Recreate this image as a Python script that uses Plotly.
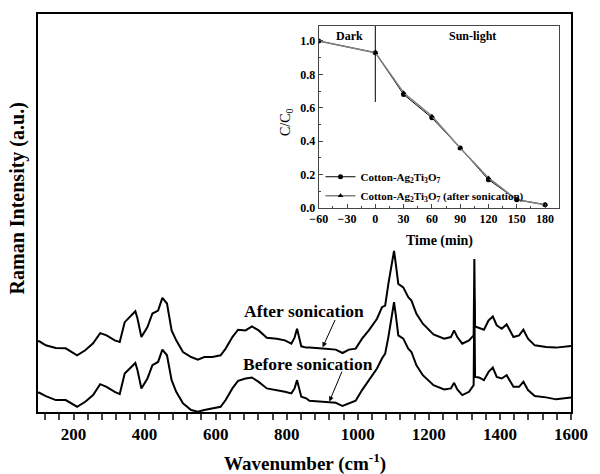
import plotly.graph_objects as go

# Raman spectra of the treated cotton fabric (arbitrary intensity units)
wavenumber = [100, 104, 122, 150, 178, 192, 210, 233, 255, 275, 293, 316, 330, 344, 363,
              374, 380, 391, 408, 422, 438, 450, 463, 476, 489, 508, 531, 550, 568, 591,
              614, 628, 647, 663, 684, 702, 721, 744, 772, 795, 813, 822, 829, 835, 841,
              855, 864, 901, 938, 957, 975, 994, 1012, 1031, 1054, 1068, 1077, 1086, 1096,
              1102, 1107, 1114, 1128, 1142, 1151, 1165, 1183, 1213, 1243, 1262, 1271, 1280,
              1294, 1313, 1326, 1328, 1330, 1341, 1355, 1368, 1380, 1391, 1405, 1419, 1438,
              1454, 1466, 1479, 1498, 1530, 1558, 1600]

intensity_after = [71, 71, 67, 64.3, 64, 61.3, 57, 62, 69, 79.3, 77, 72, 70.3, 90.3, 97,
                   101.3, 94, 75.3, 85.3, 99, 102, 114.7, 109, 82, 72, 60.3, 55.3, 52.7, 55.3, 55.3,
                   57, 63.7, 75.3, 82.7, 82, 86, 82, 74.7, 73.7, 72, 68.7, 74.7, 83.7, 73.7, 66,
                   64.7, 64.7, 63.7, 62.7, 59.3, 62.7, 63.7, 73.7, 82, 93.7, 105.3, 107, 128.7, 148.7,
                   162, 148.7, 128.7, 125.3, 115.3, 112, 98.7, 88.7, 78, 73.7, 75.3, 82, 75.3,
                   68.7, 72, 77, 153.7, 86, 84.7, 82.7, 92, 96, 87, 83.7, 88, 75.3,
                   77, 82.7, 73.7, 67, 65.3, 64.7, 66.3]

intensity_before = [19.5, 19.3, 16, 12, 12, 9.3, 5.3, 10.3, 17, 28, 25.3, 20.3, 18, 38.7, 45.3,
                    49.3, 42, 23.7, 33.7, 47, 50.3, 62.7, 57, 32, 20.3, 8.7, 2, 0.3, 2, 3.7,
                    5.3, 12, 23.7, 31.3, 33.7, 34.7, 30.3, 23.7, 22, 20.3, 18.7, 23.7, 32, 22, 15.3,
                    13.7, 11.3, 10.3, 9.3, 6, 8.7, 11.3, 22, 32, 43.7, 53.7, 58.7, 75.3, 97,
                    110.3, 97, 77, 73.7, 63.7, 60.3, 47, 37, 27, 22.7, 23.7, 29.3, 22.7,
                    17, 20.3, 27, 112, 35.3, 34.7, 32, 40.3, 44.7, 35.3, 33.7, 37, 25.3,
                    25.3, 30.3, 22, 16, 14.7, 12.7, 14.7]

# Photocatalytic degradation kinetics (inset)
time_min = [-60, 0, 30, 60, 90, 120, 150, 180]
c_ratio = [1.0, 0.93, 0.68, 0.54, 0.36, 0.17, 0.05, 0.02]
c_ratio_sonicated = [1.0, 0.93, 0.69, 0.55, 0.36, 0.18, 0.05, 0.02]

main_ticks = [200, 400, 600, 800, 1000, 1200, 1400, 1600]
inset_xticks = [-60, -30, 0, 30, 60, 90, 120, 150, 180]
inset_yticks = [0.0, 0.2, 0.4, 0.6, 0.8, 1.0]

FONT = "Liberation Serif, Times New Roman, serif"

fig = go.Figure()

fig.add_trace(go.Scatter(x=wavenumber, y=intensity_after, mode="lines",
                         line=dict(color="black", width=2), showlegend=False,
                         xaxis="x", yaxis="y"))
fig.add_trace(go.Scatter(x=wavenumber, y=intensity_before, mode="lines",
                         line=dict(color="black", width=2), showlegend=False,
                         xaxis="x", yaxis="y"))

fig.add_trace(go.Scatter(x=time_min, y=c_ratio, mode="lines+markers",
                         name="Cotton-Ag<sub>2</sub>Ti<sub>3</sub>O<sub>7</sub>",
                         line=dict(color="black", width=1),
                         marker=dict(symbol="circle", size=5, color="black"),
                         xaxis="x2", yaxis="y2"))
fig.add_trace(go.Scatter(x=time_min, y=c_ratio_sonicated, mode="lines+markers",
                         name="Cotton-Ag<sub>2</sub>Ti<sub>3</sub>O<sub>7</sub> (after sonication)",
                         line=dict(color="#808080", width=1.5),
                         marker=dict(symbol="triangle-up", size=5, color="black"),
                         xaxis="x2", yaxis="y2"))

fig.update_layout(
    width=600, height=474,
    margin=dict(l=38, r=19, t=12, b=62),
    paper_bgcolor="white", plot_bgcolor="white",
    font=dict(family=FONT, color="black", weight="bold"),
    xaxis=dict(range=[100, 1600], domain=[0, 1],
               tickvals=main_ticks, ticks="outside", ticklen=6, tickwidth=1.5,
               minor=dict(dtick=40, tick0=0, ticks="outside", ticklen=6, tickwidth=1.5),
               tickfont=dict(size=17, family=FONT, weight="bold"),
               showline=True, linecolor="black", linewidth=1.5, mirror=True,
               showgrid=False, zeroline=False),
    yaxis=dict(range=[0, 400], domain=[0, 1], showticklabels=False, ticks="",
               showline=True, linecolor="black", linewidth=1.5, mirror=True,
               showgrid=False, zeroline=False),
    xaxis2=dict(range=[-60, 195], domain=[0.5267, 0.9779], anchor="y2",
                tickvals=inset_xticks, ticks="inside", ticklen=4, tickwidth=1,
                minor=dict(dtick=15, tick0=0, ticks="inside", ticklen=2),
                tickfont=dict(size=12, family=FONT, weight="bold"),
                showline=True, linecolor="#444", linewidth=1, mirror=True,
                showgrid=False, zeroline=False),
    yaxis2=dict(range=[0, 1.09], domain=[0.5125, 0.97], anchor="x2",
                tickvals=inset_yticks, tickformat=".1f", ticks="inside", ticklen=4, tickwidth=1,
                minor=dict(dtick=0.1, tick0=0, ticks="inside", ticklen=2),
                tickfont=dict(size=12, family=FONT, weight="bold"),
                showline=True, linecolor="#444", linewidth=1, mirror=True,
                showgrid=False, zeroline=False),
    legend=dict(x=0.53, y=0.6275, xanchor="left", yanchor="top",
                bgcolor="rgba(0,0,0,0)", font=dict(size=11, family=FONT, weight="bold"),
                tracegroupgap=0, itemwidth=30),
)

# Dark / Sun-light boundary in the inset
fig.add_shape(type="line", xref="x2", yref="y2", x0=0, x1=0, y0=0.635, y1=1.09,
              line=dict(color="black", width=1))

annotations = [
    dict(text="Raman Intensity (a.u.)", xref="paper", yref="paper", x=-0.0387, y=0.5375,
         textangle=-90, font=dict(size=20)),
    dict(text="Wavenumber (cm<sup>-1</sup>)", xref="paper", yref="paper", x=0.5, y=-0.1275,
         font=dict(size=19)),
    dict(text="Time (min)", xref="paper", yref="paper", x=0.7532, y=0.43,
         font=dict(size=14)),
    dict(text="C/C<sub>0</sub>", xref="paper", yref="paper", x=0.465, y=0.728,
         textangle=-90, font=dict(size=14, weight="normal")),
    dict(text="Dark", xref="x2", yref="y2", x=-27, y=1.03, font=dict(size=12)),
    dict(text="Sun-light", xref="x2", yref="y2", x=103, y=1.03, font=dict(size=12)),
    dict(text="After sonication", xref="x", yref="y", x=849, y=101.3, font=dict(size=17.5)),
    dict(text="Before sonication", xref="x", yref="y", x=860, y=48.7, font=dict(size=17.5)),
]
for a in annotations:
    a.update(showarrow=False, xanchor="center", yanchor="middle")

# Pointer arrows from the labels to their spectra
annotations += [
    dict(text="", xref="x", yref="y", x=901, y=65, axref="x", ayref="y", ax=938, ay=94,
         showarrow=True, arrowhead=2, arrowsize=1, arrowwidth=1, arrowcolor="black"),
    dict(text="", xref="x", yref="y", x=920, y=10.5, axref="x", ayref="y", ax=957, ay=42,
         showarrow=True, arrowhead=2, arrowsize=1, arrowwidth=1, arrowcolor="black"),
]
fig.update_layout(annotations=annotations)

fig.write_html("out.html")
